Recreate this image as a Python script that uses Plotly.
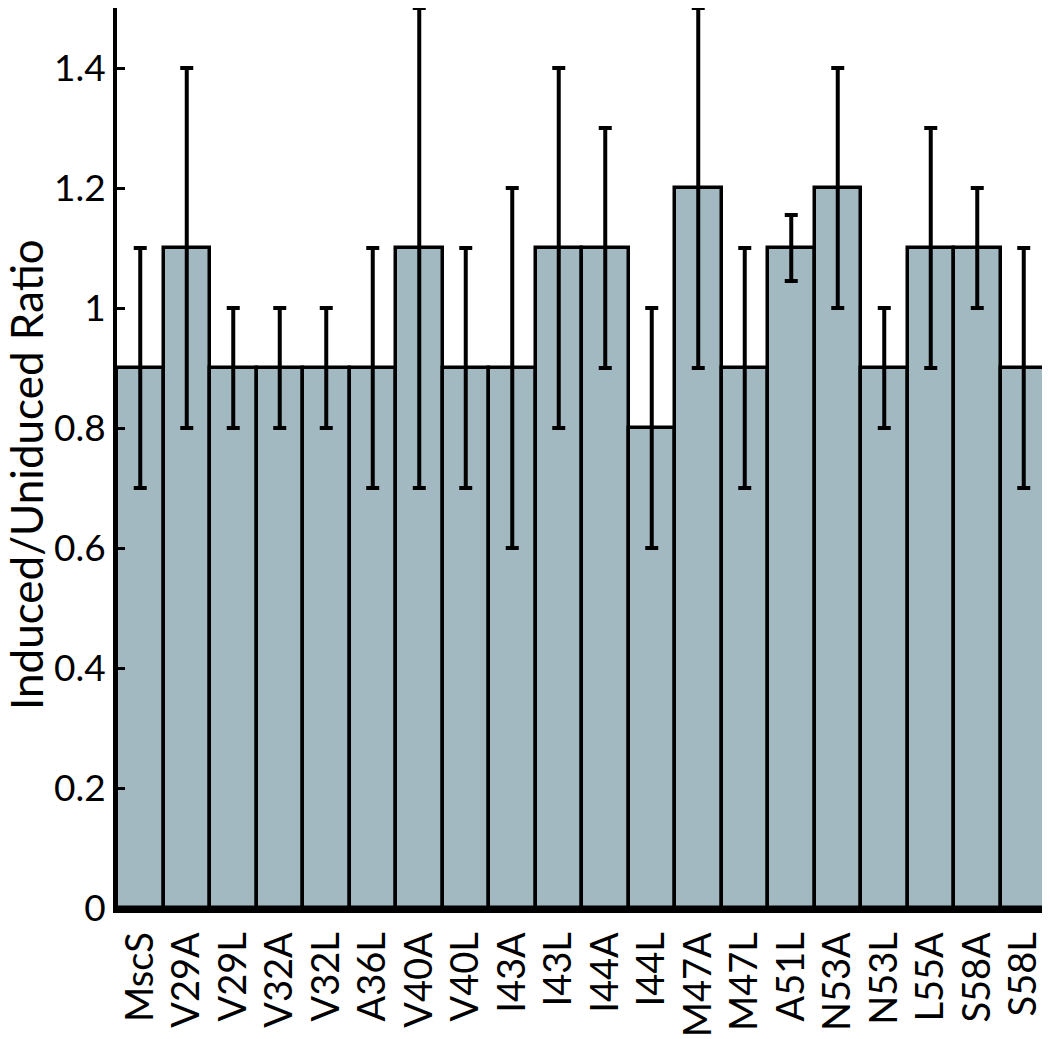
import plotly.graph_objects as go

categories = ["MscS", "V29A", "V29L", "V32A", "V32L", "A36L", "V40A", "V40L", "I43A", "I43L",
              "I44A", "I44L", "M47A", "M47L", "A51L", "N53A", "N53L", "L55A", "S58A", "S58L"]
ratios = [0.9, 1.1, 0.9, 0.9, 0.9, 0.9, 1.1, 0.9, 0.9, 1.1,
          1.1, 0.8, 1.2, 0.9, 1.1, 1.2, 0.9, 1.1, 1.1, 0.9]
errors = [0.2, 0.3, 0.1, 0.1, 0.1, 0.2, 0.4, 0.2, 0.3, 0.3,
          0.2, 0.2, 0.3, 0.2, 0.055, 0.2, 0.1, 0.2, 0.1, 0.2]
y_ticks = [0, 0.2, 0.4, 0.6, 0.8, 1.0, 1.2, 1.4]
y_tick_labels = ["0", "0.2", "0.4", "0.6", "0.8", "1", "1.2", "1.4"]
y_title = "Induced/Uniduced Ratio"

font_family = "Lato, Open Sans, sans-serif"

# page has an 8px body margin; size the figure to fit the 1050x1039 window
W, H = 1042, 1031
ML, MR, MT, MB = 109, 3, 0, 131
plot_h = H - MT - MB

fig = go.Figure()
fig.add_trace(go.Bar(
    x=categories,
    y=ratios,
    marker=dict(color="#a3b9c1", line=dict(color="black", width=3.5)),
    error_y=dict(type="data", array=errors, visible=True, color="black",
                 thickness=4, width=6.5),
    cliponaxis=False,
))

fig.update_layout(
    width=W, height=H,
    margin=dict(l=ML, r=MR, t=MT, b=MB),
    paper_bgcolor="white", plot_bgcolor="white",
    bargap=0,
    showlegend=False,
    font=dict(family=font_family, color="black", size=40),
)
fig.update_xaxes(
    tickmode="array", tickvals=categories, ticktext=categories,
    tickangle=-90, tickfont=dict(size=38, family=font_family),
    showline=True, linecolor="black", linewidth=5,
    ticks="", showgrid=False, zeroline=False, automargin=False,
    ticklabelstandoff=4,
)
fig.update_yaxes(
    range=[0, 1.5],
    tickmode="array", tickvals=y_ticks, ticktext=y_tick_labels,
    tickfont=dict(size=37, family=font_family),
    ticks="inside", ticklen=8, tickwidth=3, tickcolor="black",
    showline=True, linecolor="black", linewidth=4,
    showgrid=False, zeroline=False, automargin=False,
)
fig.add_annotation(
    text=y_title, textangle=-90,
    xref="paper", yref="paper",
    x=(18 - ML) / (W - ML - MR), y=1 - 467 / plot_h,
    xanchor="center", yanchor="middle",
    showarrow=False, font=dict(size=44, family=font_family, color="black"),
)

fig.write_html("out.html")
